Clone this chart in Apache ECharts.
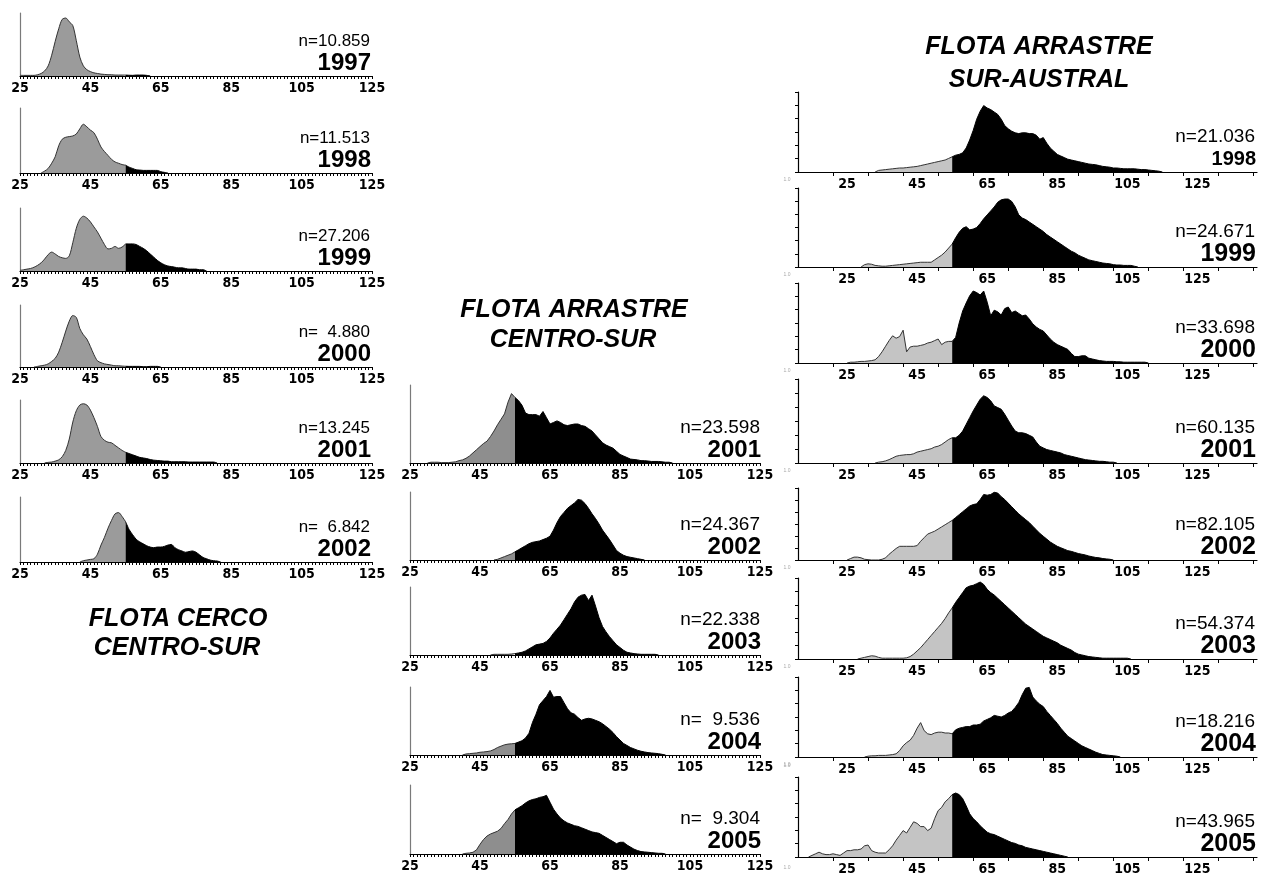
<!DOCTYPE html>
<html>
<head>
<meta charset="utf-8">
<script src="https://cdn.jsdelivr.net/npm/echarts@6/dist/echarts.min.js"></script>
<style>
  html, body { margin: 0; padding: 0; background: #fff; }
  #chart { width: 1266px; height: 874px; }
</style>
</head>
<body>
<div id="chart"></div>
<script>
// talla (cm) que separa el gris del negro
const SPLIT = 55;
const xTickLabels = [25, 45, 65, 85, 105, 125];
const surAustralTicks = [21, 31, 41, 51, 61, 71, 81, 91, 101, 111, 121, 131, 141];

// ---- FLOTA CERCO CENTRO-SUR (frecuencia relativa, % de la altura del panel)
const cercoYears = ['1997', '1998', '1999', '2000', '2001', '2002'];
const cercoN = ['n=10.859', 'n=11.513', 'n=27.206', 'n=  4.880', 'n=13.245', 'n=  6.842'];
const cercoFrom = [25, 31, 25, 29, 32, 42];
const cerco1997 = [1,1,1,1,1,2,4,8,16,33,55,75,90,92,86,80,56,30,16,10,7,5,4,3,2.5,2,2,1.5,1.5,1.5,1.5,1.2,1,1.5,1.5,1.5,1,0];
const cerco1998 = [0,3,7,15,25,42,52,55,56,57,60,68,75,71,66,62,52,40,33,27,21,17,15,13,12,9,7,5,4.5,4,4,4,4,4,2,1,0];
const cerco1999 = [1,2,3,4,6,9,13,19,26,30,27,23,21,20,24,45,68,82,87,84,78,70,62,52,42,35,36,39,36,38,43,43,43,42,39,36,32,27,22,17,13,10,8,7,6,5,5,4,3,3,3,2,2,0];
const cerco2000 = [0,1,2,3,5,9,14,24,40,58,74,83,80,62,52,45,33,20,10,7,5,4,3,2,2,1.5,1.2,1,1,1,1,0.5,0.5,1,1,1,0];
const cerco2001 = [0,1,1.5,3,5,10,20,38,65,83,92,94,92,84,72,58,42,36,33,32,28,24,20,17,15,13,11,9,8,7,5.5,4.5,4,3.5,3,3,2,2,2,2,2,1.5,1.5,1.5,1.5,1.5,1.5,1.5,1.5,0];
const cerco2002 = [0,2,3,4,5,12,26,38,52,64,74,76,70,62,50,42,35,31,28,25,23,22,23,23,24,26,27,22,19,17,15,16,17,15,11,7,5,3,2,1.5,0];

// ---- FLOTA ARRASTRE CENTRO-SUR
const csYears = ['2001', '2002', '2003', '2004', '2005'];
const csN = ['n=23.598', 'n=24.367', 'n=22.338', 'n=  9.536', 'n=  9.304'];
const csFrom = [30, 49, 48, 40, 40];
const cs2001 = [0,1,1,1,0.5,0.5,0.5,1,1.5,3,4,6,9,13,17,21,25,28,34,41,49,56,63,78,89,84,80,74,64,62,62,62,60,66,58,50,52,54,52,49,48,49,50,50,48,47,44,41,36,31,26,23,21,19,15,11,9,7,5,4.5,4,3,3,2.5,2,2,2,1.5,1,1,0];
const cs2002 = [0,1,3,5,7,9,12,15,18,21,24,26,27,28,30,32,35,44,55,64,70,76,80,84,89,88,83,76,68,61,53,44,37,30,22,14,10,7,5,4,3,2,1,0];
const cs2003 = [0,1,1,1,1,1,1.5,2,3,4,6,9,12,15,16,17,20,25,32,38,44,52,60,68,78,85,88,89,80,88,72,55,42,34,27,21,15,11,7,4,3,2,1.5,1,1,1,1,1,0];
const cs2004 = [0,1.5,2,2.5,3,4,4.5,5,6,8,11,13,15,16,16.5,17,19,21,25,32,48,60,74,80,86,95,85,86,86,77,68,62,60,55,51,53,54,53,51,49,46,42,38,33,27,22,17,14,11,9,7,5.5,4.5,3.5,3,2.5,2,1,0];
const cs2005 = [0,1,1.5,2.5,6,14,21,26,29,31,33,37,44,50,58,64,67,70,74,77,79,80,82,83,85,75,65,58,52,48,45,43,41,40,38,36,34,32,31,30,27,24,21,18,15,17,17,13,10,7,5,3.5,3,2.5,2,1.5,1,1,0];

// ---- FLOTA ARRASTRE SUR-AUSTRAL
const saYears = ['1998', '1999', '2000', '2001', '2002', '2003', '2004', '2005'];
const saN = ['n=21.036', 'n=24.671', 'n=33.698', 'n=60.135', 'n=82.105', 'n=54.374', 'n=18.216', 'n=43.965'];
const saFrom = [33, 29, 25, 33, 25, 28, 30, 14];
const sa1998 = [0,2,2.5,3,3.5,4,4.5,5,5,5.5,6,6.5,7,8,9,10,11,12,13,14,15,17,19,21,22,24,30,40,52,66,76,83,80,78,75,72,66,58,54,51,49,48,49,49,48,48,46,41,43,36,30,26,22,20,18,16,15,14,13,12,11,10,9.5,9,8,7,6.5,6,5,5,4.5,4,4,4,4,3.5,3,3,2.5,2,1.5,1,0];
const sa1999 = [0,3,4,3.5,2,1.5,1,1,1.5,2,2.5,3,3.5,4,4.5,5,5.5,6,6,6,6,9,12,15,19,24,29,37,44,49,51,47,48,50,55,61,66,71,76,82,85,86,86,83,76,66,62,60,57,54,51,48,45,41,38,35,32,29,26,23,20,18,15,13,11,9,8,7,6,5,4.5,4,3,2.5,2.5,2,2,2,1,0];
const sa2000 = [0,1,1,1.5,2,2,2.5,3,4,8,14,21,28,34,31,33,41,14,20,21,21,22,23,25,26,28,30,23,26,27,27,32,50,65,75,84,90,88,85,90,76,59,66,64,60,68,70,63,65,62,59,60,55,49,45,42,40,35,30,26,23,21,19,17,12,8,8,9,9,6,5,4,3,2.5,2,2,2,1.5,1.5,1,1,1,1,1,1,1,0];
const sa2001 = [0,1,1.5,2.5,4,6,8,9,9.5,10,10,11,13,14,15,16,17,19,20,22,25,28,30,30,33,38,46,54,62,69,76,80,78,74,68,66,64,58,51,44,38,36,36,35,33,31,25,20,18,16,15,14,13,12,10,9,8,7,6,5,4,3.5,3,2.5,2,2,1.5,1,1,0];
const sa2002 = [0,2,4,4,3,1,0.5,0,0,0,1,3,8,12,16,19,19,19,19,19,20,26,31,36,38,40,43,46,49,52,55,59,63,67,71,75,77,78,84,91,90,91,94,93,88,84,79,74,69,64,60,56,52,47,42,37,33,29,25,22,19,17,15,13,12,10.5,9,8,7,5.5,4.5,3.5,3,2,1.5,1,0];
const sa2003 = [0,1,2,3,4,3.5,2,1,1,1,1,1,1,1,1.5,3,6,10,14,19,24,29,34,39,44,50,57,63,70,76,82,88,90,91,93,95,92,86,82,79,75,71,67,63,59,55,51,47,43,40,37,34,31,28,26,24,22,20,17,15,13,11,8,6,5,4,3,2.5,2,1.5,1,1,1,1,1,1,1,1,0];
const sa2004 = [0,1,1.5,1.5,2,2,2,2.5,3,4,8,14,18,21,27,36,43,33,29,28,30,31,31,30,30,29,34,36,37,38,38,40,40,41,45,47,49,52,51,50,52,55,57,62,68,78,86,87,75,70,66,63,57,52,47,42,36,31,26,23,20,17,14,12,10,8,6,4.5,3,2.5,2,1.5,1,0];
const sa2005 = [0,2,4,6,4,3,3,4,3,2,5,8,8,9,9,10,14,15,8,6,5,5,5,9,14,21,27,33,30,37,44,42,38,38,33,36,48,58,62,69,73,78,80,78,73,64,54,48,44,39,35,31,29,28,26,24,22,20,18,17,15,14,12,11,10,9,8,7,6,5,4,3,2,1,0];

// ---- posiciones de los paneles (px)
const cercoTops = [13, 108, 208, 305, 400, 497];
const cercoAxis = [76, 173, 271, 367, 463, 562];
const csTops = [385, 492, 587, 687, 785];
const csAxis = [463, 560, 655, 755, 854];
const saTops = [92, 188, 283, 379, 488, 578, 677, 777];
const saAxis = [172, 267, 363, 463, 560, 659, 757, 857];

const AXIS_FONT = '"Liberation Sans Narrow", "DejaVu Sans Condensed", "Arial Narrow", sans-serif';
const TEXT_FONT = '"Liberation Sans", Arial, sans-serif';

const range = (a, b, s) => { const r = []; for (let v = a; v <= b; v += s) r.push(v); return r; };

const columns = {
  cerco: { left: 20, width: 352, min: 25, max: 125, gray: '#9b9b9b', smooth: 0.3, ticks: range(25, 125, 1),
           tickLen: 3, yLine: '#7a7a7a', yTicks: false, nSize: 17, yearSize: 24, right: 370 },
  cs:    { left: 410, width: 350, min: 25, max: 125, gray: '#8e8e8e', smooth: false, ticks: range(25, 125, 1),
           tickLen: 3, yLine: '#7a7a7a', yTicks: false, nSize: 19, yearSize: 24, right: 760 },
  sa:    { left: 798, width: 459, min: 11, max: 142, gray: '#c4c4c4', smooth: false, ticks: surAustralTicks,
           tickLen: 4, yLine: '#000', yTicks: true, nSize: 19, yearSize: 25, right: 1255 }
};

const grids = [], xAxis = [], yAxis = [], series = [], graphics = [];

function addPanel(col, top, axisY, from, freq, nText, year, yearSize) {
  const c = columns[col];
  const i = grids.length;
  grids.push({ left: c.left, top: top, width: c.width, height: axisY - top, outerBoundsMode: 'none' });
  xAxis.push({
    type: 'value', gridIndex: i, min: c.min, max: c.max,
    axisLine: { show: true, onZero: false, lineStyle: { color: '#000', width: 1.2 } },
    axisTick: { show: true, customValues: c.ticks, length: c.tickLen, lineStyle: { color: '#000', width: 1 } },
    axisLabel: { show: true, customValues: xTickLabels, margin: 5, color: '#000',
                 fontFamily: AXIS_FONT, fontWeight: 'bold', fontSize: 14 },
    splitLine: { show: false }
  });
  yAxis.push({
    type: 'value', gridIndex: i, min: 0, max: 100, interval: 100 / 6,
    axisLine: { show: true, lineStyle: { color: c.yLine, width: 1.2 } },
    axisTick: { show: c.yTicks, length: 3, lineStyle: { color: '#000' } },
    axisLabel: { show: false },
    splitLine: { show: false }
  });
  const pts = freq.map((v, k) => [from + k, v]);
  const base = { type: 'line', xAxisIndex: i, yAxisIndex: i, showSymbol: false, silent: true,
                 smooth: c.smooth, z: 2 };
  series.push(Object.assign({}, base, {
    data: pts.filter(p => p[0] <= SPLIT),
    lineStyle: { color: '#333', width: 1 },
    areaStyle: { color: c.gray, opacity: 1 }
  }));
  series.push(Object.assign({}, base, {
    data: pts.filter(p => p[0] >= SPLIT),
    lineStyle: { color: '#000', width: 1 },
    areaStyle: { color: '#000', opacity: 1 }
  }));
  graphics.push({ type: 'text', z: 10, style: { text: nText, x: c.right, y: axisY - 35,
    textAlign: 'right', textVerticalAlign: 'middle', font: c.nSize + 'px ' + TEXT_FONT, fill: '#000' } });
  graphics.push({ type: 'text', z: 10, style: { text: year, x: c.right + 1, y: axisY - 13,
    textAlign: 'right', textVerticalAlign: 'middle', font: 'bold ' + (yearSize || c.yearSize) + 'px ' + TEXT_FONT, fill: '#000' } });
  if (col === 'sa' && year !== '2005') {
    graphics.push({ type: 'text', style: { text: '1.0', x: 787, y: axisY + 8, textAlign: 'center',
      textVerticalAlign: 'middle', font: '5px ' + TEXT_FONT, fill: '#aaa' } });
  }
}

const cercoData = [cerco1997, cerco1998, cerco1999, cerco2000, cerco2001, cerco2002];
cercoYears.forEach((y, k) => addPanel('cerco', cercoTops[k], cercoAxis[k], cercoFrom[k], cercoData[k], cercoN[k], y));
const csData = [cs2001, cs2002, cs2003, cs2004, cs2005];
csYears.forEach((y, k) => addPanel('cs', csTops[k], csAxis[k], csFrom[k], csData[k], csN[k], y));
const saData = [sa1998, sa1999, sa2000, sa2001, sa2002, sa2003, sa2004, sa2005];
saYears.forEach((y, k) => addPanel('sa', saTops[k], saAxis[k], saFrom[k], saData[k], saN[k], y, k === 0 ? 20 : null));

// "1.0" sueltos del original, columna derecha
graphics.push({ type: 'text', style: { text: '1.0', x: 787, y: 766, textAlign: 'center', textVerticalAlign: 'middle',
  font: '5px ' + TEXT_FONT, fill: '#aaa' } });
graphics.push({ type: 'text', style: { text: '1.0', x: 787, y: 868, textAlign: 'center', textVerticalAlign: 'middle',
  font: '5px ' + TEXT_FONT, fill: '#aaa' } });

// titulos de flota
const TITLE_FONT = 'italic bold 25px ' + TEXT_FONT;
[['FLOTA CERCO', 178, 619], ['CENTRO-SUR', 177, 648],
 ['FLOTA ARRASTRE', 574, 310], ['CENTRO-SUR', 573, 340],
 ['FLOTA ARRASTRE', 1039, 47], ['SUR-AUSTRAL', 1039, 80]].forEach(t => {
  graphics.push({ type: 'text', style: { text: t[0], x: t[1], y: t[2], textAlign: 'center',
    textVerticalAlign: 'middle', font: TITLE_FONT, fill: '#000' } });
});

const chart = echarts.init(document.getElementById('chart'));
chart.setOption({
  animation: false,
  backgroundColor: '#fff',
  grid: grids,
  xAxis: xAxis,
  yAxis: yAxis,
  series: series,
  graphic: { elements: graphics }
});
</script>
</body>
</html>
